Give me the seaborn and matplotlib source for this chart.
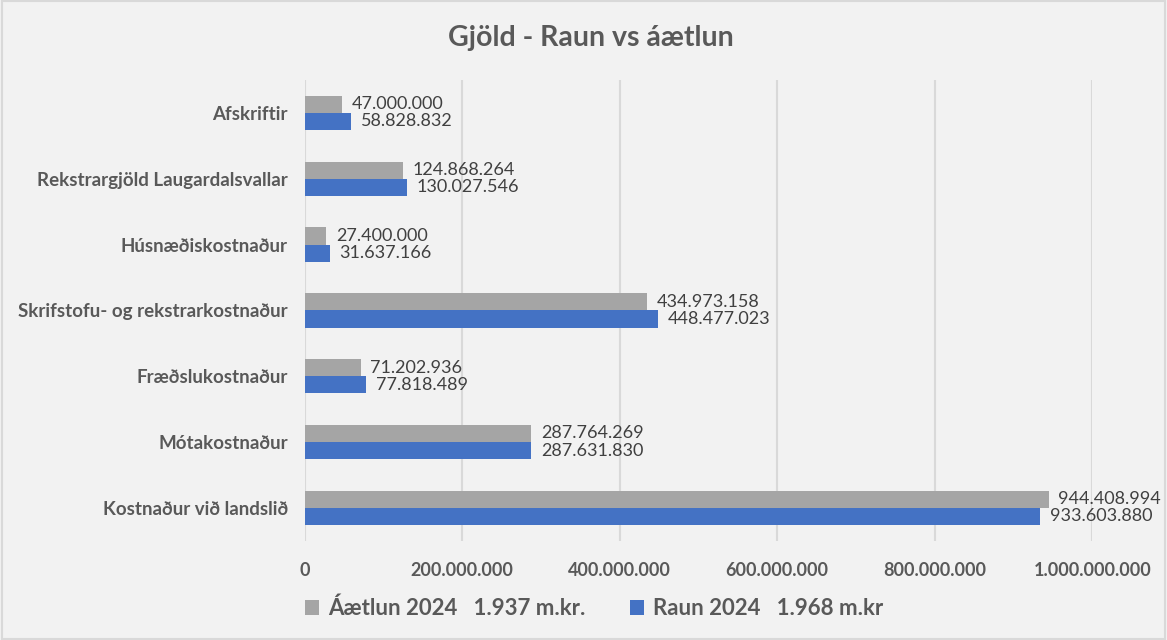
import pandas as pd
import matplotlib.pyplot as plt
import seaborn as sns

# Gögn lesin af myndinni
flokkar = [
    "Afskriftir",
    "Rekstrargjöld Laugardalsvallar",
    "Húsnæðiskostnaður",
    "Skrifstofu- og rekstrarkostnaður",
    "Fræðslukostnaður",
    "Mótakostnaður",
    "Kostnaður við landslið",
]
aaetlun = [47000000, 124868264, 27400000, 434973158, 71202936, 287764269, 944408994]
raun = [58828832, 130027546, 31637166, 448477023, 77818489, 287631830, 933603880]
radir = ["Áætlun 2024   1.937 m.kr.", "Raun 2024   1.968 m.kr"]
xticks = [0, 200000000, 400000000, 600000000, 800000000, 1000000000]

df = pd.DataFrame({
    "flokkur": flokkar * 2,
    "upphaed": aaetlun + raun,
    "rod": [radir[0]] * len(flokkar) + [radir[1]] * len(flokkar),
})

def fmt(v):
    return f"{v:,.0f}".replace(",", ".")

sns.set_style("white")
plt.rcParams["font.family"] = ["Lato", "DejaVu Sans"]
textcolor = "#595959"
bg = "#f2f2f2"

fig = plt.figure(figsize=(11.67, 6.40), dpi=100, facecolor=bg)
fig.patches.append(plt.Rectangle((0.002, 0.002), 0.996, 0.996, transform=fig.transFigure,
                                 fill=False, edgecolor="#d9d9d9", linewidth=1.5))
ax = fig.add_axes([0.261, 0.155, 0.675, 0.72])
ax.set_facecolor(bg)

sns.barplot(data=df, y="flokkur", x="upphaed", hue="rod", order=flokkar,
            palette=["#a5a5a5", "#4472c4"], saturation=1, width=0.52,
            linewidth=0, ax=ax, legend=True)

for cont in ax.containers:
    ax.bar_label(cont, labels=[fmt(v) for v in cont.datavalues], padding=7,
                 fontsize=13, color="#404040")

ax.set_xlim(0, 1000000000)
ax.set_xticks(xticks)
ax.set_xticklabels([fmt(t) for t in xticks], fontsize=13, fontweight="bold", color=textcolor)
ax.tick_params(axis="x", length=0, pad=15)
ax.tick_params(axis="y", length=0, pad=12)
for lbl in ax.get_yticklabels():
    lbl.set_fontsize(13.5)
    lbl.set_fontweight("bold")
    lbl.set_color(textcolor)
ax.xaxis.grid(True, color="#d9d9d9", linewidth=1.5)
ax.set_axisbelow(True)
for s in ax.spines.values():
    s.set_visible(False)
ax.set_xlabel("")
ax.set_ylabel("")

ax.get_legend().remove()
handles, labels = ax.get_legend_handles_labels()
leg = fig.legend(handles, labels, loc="center", bbox_to_anchor=(0.509, 0.049), ncol=2,
                 frameon=False, fontsize=16, handlelength=0.65, handleheight=0.65,
                 columnspacing=2.0, handletextpad=0.4)
for t in leg.get_texts():
    t.set_color(textcolor)
    t.set_fontweight("bold")

fig.text(0.506, 0.94, "Gjöld - Raun vs áætlun", ha="center", va="center",
         fontsize=20.5, fontweight="bold", color=textcolor)

fig.savefig("out.png", dpi=100, facecolor=bg)
